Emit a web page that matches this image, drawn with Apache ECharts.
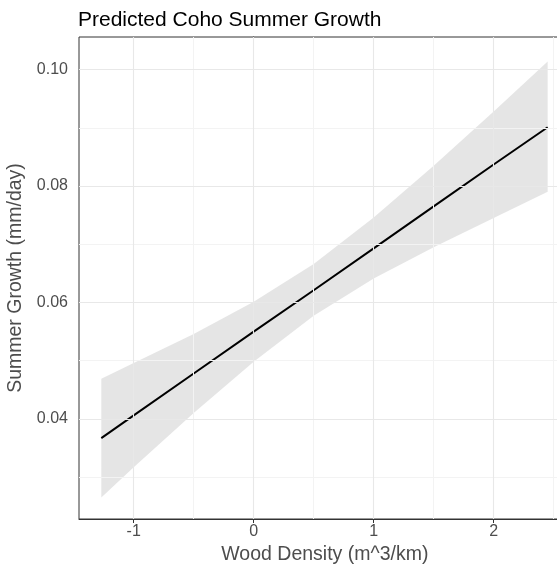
<!DOCTYPE html>
<html>
<head>
<meta charset="utf-8">
<script src="https://cdn.jsdelivr.net/npm/echarts@6/dist/echarts.min.js"></script>
<style>
  html, body { margin: 0; padding: 0; background: #fff; }
  #chart { width: 557px; height: 567px; }
</style>
</head>
<body>
<div id="chart"></div>
<script>
// Predicted summer growth of coho vs. wood density, with confidence band
const woodDensity = [-1.27, -1, -0.5, 0, 0.5, 1, 1.5, 2, 2.45];
const fitGrowth   = [0.0367, 0.0406, 0.0478, 0.0550, 0.0621, 0.0693, 0.0765, 0.0837, 0.0901];
const lowerGrowth = [0.0265, 0.0317, 0.0410, 0.0498, 0.0577, 0.0641, 0.0695, 0.0745, 0.0790];
const upperGrowth = [0.0469, 0.0496, 0.0546, 0.0601, 0.0666, 0.0746, 0.0835, 0.0928, 0.1014];

const xTicks = [-1, 0, 1, 2];
const xMinorTicks = [-0.5, 0.5, 1.5, 2.5];
const yTicks = [0.04, 0.06, 0.08, 0.10];
const yMinorTicks = [0.03, 0.05, 0.07, 0.09];

const xRange = [-1.456, 2.642];
const yRange = [0.0228, 0.1056];

const chart = echarts.init(document.getElementById('chart'), null, { renderer: 'canvas' });

const font = 'Liberation Sans, Arial, Helvetica, sans-serif';

const minorStyle = { color: '#f3f3f3', width: 1, type: 'solid' };
const majorStyle = { color: '#e8e8e8', width: 1.1, type: 'solid' };
const gridLines = [];
xMinorTicks.forEach(v => gridLines.push({ xAxis: v, lineStyle: minorStyle }));
yMinorTicks.forEach(v => gridLines.push({ yAxis: v, lineStyle: minorStyle }));
xTicks.forEach(v => gridLines.push({ xAxis: v, lineStyle: majorStyle }));
yTicks.forEach(v => gridLines.push({ yAxis: v, lineStyle: majorStyle }));

chart.setOption({
  animation: false,
  backgroundColor: '#ffffff',
  title: {
    text: 'Predicted Coho Summer Growth',
    left: 73,
    top: 5,
    textStyle: { fontFamily: font, fontSize: 21, fontWeight: 'normal', color: '#000' }
  },
  grid: {
    outerBoundsMode: 'none',
    containLabel: false,
    left: 79, top: 37, bottom: 48, right: -13.7,
    show: true, borderColor: '#333333', borderWidth: 1, backgroundColor: '#fff'
  },
  xAxis: {
    type: 'value',
    min: xRange[0], max: xRange[1],
    name: 'Wood Density (m^3/km)',
    nameLocation: 'middle',
    nameGap: 26,
    nameTextStyle: { fontFamily: font, fontSize: 19.5, color: '#4d4d4d' },
    axisLine: { show: true, lineStyle: { color: '#333333', width: 1 } },
    splitLine: { show: false },
    axisTick: { show: true, length: 4, customValues: xTicks, lineStyle: { color: '#333333', width: 1 } },
    axisLabel: {
      customValues: xTicks, margin: 5,
      fontFamily: font, fontSize: 16, color: '#4d4d4d',
      formatter: v => String(v)
    }
  },
  yAxis: {
    type: 'value',
    min: yRange[0], max: yRange[1],
    name: 'Summer Growth (mm/day)',
    nameLocation: 'middle',
    nameGap: 47,
    nameTextStyle: { fontFamily: font, fontSize: 19.5, color: '#4d4d4d' },
    axisLine: { show: true, lineStyle: { color: '#333333', width: 1 } },
    splitLine: { show: false },
    axisTick: { show: true, length: 4, customValues: yTicks, lineStyle: { color: '#333333', width: 1 } },
    axisLabel: {
      customValues: yTicks, margin: 11,
      fontFamily: font, fontSize: 16, color: '#4d4d4d',
      formatter: v => v.toFixed(2)
    }
  },
  series: [
    {
      name: 'grid',
      type: 'line',
      data: [],
      z: 0,
      silent: true,
      markLine: {
        silent: true,
        symbol: ['none', 'none'],
        label: { show: false },
        animation: false,
        data: gridLines
      }
    },
    {
      name: 'band',
      type: 'custom',
      z: 1,
      silent: true,
      data: woodDensity.map((x, i) => [x, lowerGrowth[i], upperGrowth[i]]),
      encode: { x: 0, y: [1, 2] },
      renderItem: function (params, api) {
        if (params.dataIndex !== 0) return null;
        const pts = [];
        for (let i = 0; i < woodDensity.length; i++) pts.push(api.coord([woodDensity[i], upperGrowth[i]]));
        for (let i = woodDensity.length - 1; i >= 0; i--) pts.push(api.coord([woodDensity[i], lowerGrowth[i]]));
        return {
          type: 'polygon',
          shape: { points: pts },
          style: { fill: 'rgba(153,153,153,0.26)', stroke: null }
        };
      }
    },
    {
      name: 'fit',
      type: 'line',
      z: 2,
      data: woodDensity.map((x, i) => [x, fitGrowth[i]]),
      showSymbol: false,
      symbol: 'none',
      lineStyle: { color: '#000000', width: 2 }
    }
  ]
});
</script>
</body>
</html>
